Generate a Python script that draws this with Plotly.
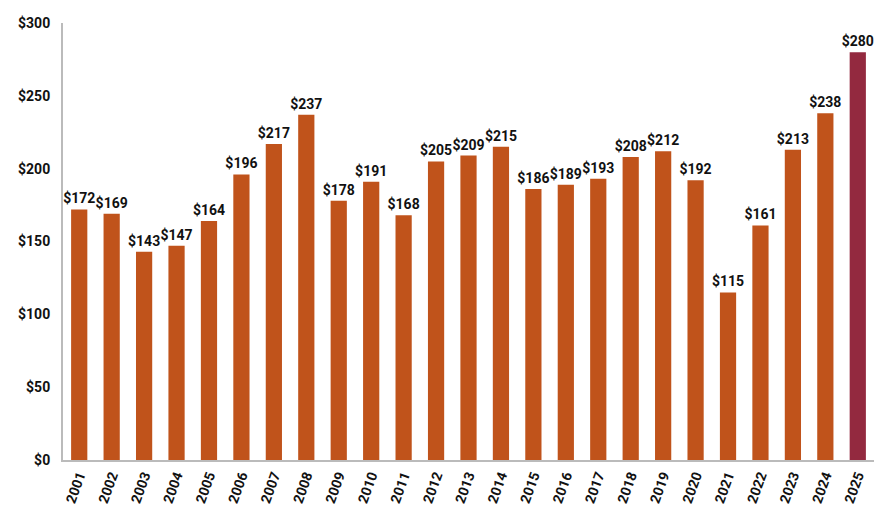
import plotly.graph_objects as go

years = [str(y) for y in range(2001, 2026)]
values = [172, 169, 143, 147, 164, 196, 217, 237, 178, 191, 168, 205, 209, 215,
          186, 189, 193, 208, 212, 192, 115, 161, 213, 238, 280]
labels = [f"${v}" for v in values]
colors = ["#C0531B"] * 24 + ["#93293F"]

fig = go.Figure(go.Bar(
    x=years, y=values, marker_color=colors, marker_line_width=0,
    text=labels, textposition="outside", cliponaxis=False,
    textfont=dict(family="Roboto", size=14, color="#111111", weight="bold"),
))
fig.update_layout(
    width=893, height=528, margin=dict(l=63, r=19, t=23, b=68),
    plot_bgcolor="white", paper_bgcolor="white", bargap=0.5,
    showlegend=False, uniformtext=dict(mode="show", minsize=14),
)
fig.update_yaxes(range=[0, 300], tickvals=[0, 50, 100, 150, 200, 250, 300],
                 ticktext=["$0", "$50", "$100", "$150", "$200", "$250", "$300"],
                 showgrid=False, zeroline=False, showline=True, linecolor="#BBBBBB", linewidth=2,
                 tickfont=dict(family="Roboto", size=14, color="#111111", weight="bold"),
                 ticks="", ticklabelstandoff=8)
fig.update_xaxes(showgrid=False, showline=True, linecolor="#BBBBBB", linewidth=2,
                 tickangle=-70, ticks="",
                 tickfont=dict(family="Roboto", size=14, color="#111111", weight="bold"))
fig.write_html("out.html")
